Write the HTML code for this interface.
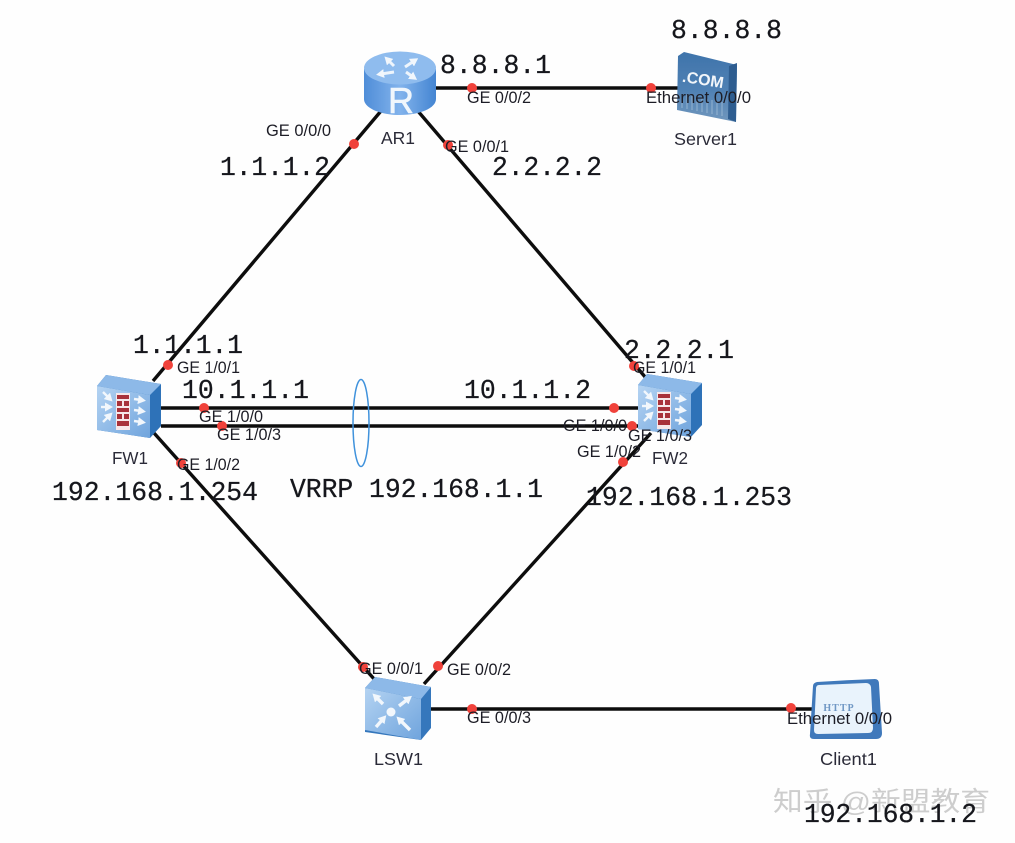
<!DOCTYPE html>
<html><head><meta charset="utf-8">
<style>
html,body{margin:0;padding:0;background:#fefefe;}
svg{display:block;}
.m{font-family:"Liberation Mono",monospace;font-size:26.4px;fill:#14181c;stroke:#14181c;stroke-width:.25;}
.l{font-family:"Liberation Sans",sans-serif;font-size:16.3px;fill:#1f1f26;}
.n{font-family:"Liberation Sans",sans-serif;font-size:17.5px;fill:#2c2c38;}
.ln{stroke:#0c0c0c;stroke-width:3.4;fill:none;}
.d{fill:#f0433b;}
</style></head><body>
<svg width="1015" height="843" viewBox="0 0 1015 843" xmlns="http://www.w3.org/2000/svg">
<defs>
<filter id="b" x="0" y="0" width="100%" height="100%"><feGaussianBlur stdDeviation="0.35"/></filter>
<marker id="a" markerUnits="userSpaceOnUse" markerWidth="9" markerHeight="9" refX="3" refY="4.5" orient="auto"><path d="M0 0 L8 4.5 L0 9 Z" fill="#f2f7fc"/></marker>
<linearGradient id="f" x1="0" y1="0" x2="1" y2="1"><stop offset="0" stop-color="#b4d3f2"/><stop offset="1" stop-color="#6fa4dd"/></linearGradient>
<linearGradient id="r" x1="0" y1="0" x2="1" y2="0"><stop offset="0" stop-color="#4f8dd8"/><stop offset="0.5" stop-color="#82b3ec"/><stop offset="1" stop-color="#4485d2"/></linearGradient>
<linearGradient id="s" x1="0" y1="0" x2="0" y2="1"><stop offset="0" stop-color="#3f74ab"/><stop offset="0.55" stop-color="#4f81b4"/><stop offset="1" stop-color="#7197bd"/></linearGradient>
<g id="fw">
<path d="M0 11 L9 0 L64 9 L64 51 L53 63 L0 55 Z" fill="#2f72b8"/>
<path d="M0 11 L9 0 L64 9 L53 20 Z" fill="#8db9e8"/>
<path d="M0 11 L53 20 L53 63 L0 55 Z" fill="url(#f)"/>
<rect x="19" y="18" width="14" height="37" fill="#f6e8ea"/>
<g fill="#a8323a">
<rect x="20" y="20" width="12" height="4"/><rect x="20" y="26" width="5" height="5"/><rect x="27" y="26" width="5" height="5"/>
<rect x="20" y="33" width="12" height="4"/><rect x="20" y="39" width="5" height="5"/><rect x="27" y="39" width="5" height="5"/>
<rect x="20" y="46" width="12" height="5"/>
</g>
<g stroke="#f2f7fc" stroke-width="2.4" fill="none" marker-end="url(#a)">
<path d="M6 17 L12 23"/><path d="M4 32 L11 32"/><path d="M6 47 L12 41"/>
<path d="M37 24 L44 25"/><path d="M37 35 L44 36"/><path d="M37 46 L44 47"/>
</g>
</g>
</defs>
<g filter="url(#b)">
<rect width="1015" height="843" fill="#fefefe"/>
<!-- links -->
<line class="ln" x1="381" y1="111" x2="153" y2="381"/>
<line class="ln" x1="417" y1="110" x2="646" y2="378"/>
<line class="ln" x1="436" y1="88" x2="680" y2="88"/>
<line class="ln" x1="161" y1="408" x2="638" y2="408"/>
<line class="ln" x1="161" y1="426" x2="638" y2="426"/>
<line class="ln" x1="154" y1="433" x2="375" y2="680"/>
<line class="ln" x1="651" y1="433" x2="424" y2="684"/>
<line class="ln" x1="430" y1="709" x2="815" y2="709"/>

<ellipse cx="361" cy="423" rx="8" ry="43.5" fill="none" stroke="#3f92dc" stroke-width="1.5"/>

<!-- AR1 -->
<path d="M364 69 L364 99 C364 108 380 115 400 115 C420 115 436 108 436 99 L436 69 Z" fill="url(#r)"/>
<ellipse cx="400" cy="68" rx="36" ry="16.5" fill="#8fbcee"/>
<g stroke="#eef5fc" stroke-width="3" fill="none" marker-end="url(#a)">
<path d="M394 66 L388 60"/><path d="M405 67 L414 61"/><path d="M394 72 L381 74"/><path d="M406 72 L413 77"/>
</g>
<text x="401" y="113" text-anchor="middle" style="font-family:'Liberation Sans',sans-serif;font-size:36px;fill:#f0f6fc;stroke:#f0f6fc;stroke-width:.6">R</text>

<!-- Server -->
<path d="M678 56 L684 52 L737 65 L736 122 L677 110 Z" fill="url(#s)"/>
<path d="M729 66 L737 63 L736 122 L728 119 Z" fill="#2e5d90"/>
<g stroke="#a9c4dc" stroke-width="1" opacity=".7">
<path d="M682 94 L682 108"/><path d="M687 95 L687 109"/><path d="M692 96 L692 110"/><path d="M697 97 L697 111"/><path d="M702 98 L702 112"/><path d="M707 99 L707 113"/><path d="M712 100 L712 114"/><path d="M717 101 L717 115"/><path d="M722 102 L722 116"/>
</g>
<text x="703" y="85" text-anchor="middle" transform="rotate(9 703 80)" style="font-family:'Liberation Sans',sans-serif;font-size:16px;font-weight:bold;fill:#f2f6fa">.COM</text>

<!-- Firewalls -->
<use href="#fw" x="97" y="375"/>
<use href="#fw" x="638" y="374"/>

<!-- LSW1 -->
<path d="M365 688 L375 677 L431 687 L431 728 L421 740 L365 732 Z" fill="#3677bc"/>
<path d="M365 688 L375 677 L431 687 L421 699 Z" fill="#8db9e8"/>
<path d="M365 688 L421 699 L421 740 L365 730 Z" fill="url(#f)"/>
<circle cx="391" cy="712" r="4.5" fill="#f2f7fc"/>
<g stroke="#f2f7fc" stroke-width="3.4" fill="none" marker-end="url(#a)">
<path d="M383 704 L376 697"/><path d="M399 706 L408 699"/><path d="M376 727 L383 719"/><path d="M410 730 L400 720"/>
</g>

<!-- Client -->
<path d="M817 682 Q847 680 875 679 Q879 679 879 684 L882 733 Q882 739 876 739 L814 739 Q809 739 810 734 L813 686 Q813 683 817 682 Z" fill="#3f79bb"/>
<path d="M819 685 L866 683 Q870 683 871 687 L873 728 Q873 733 868 733 L818 734 Q814 734 814 730 L816 689 Q816 685 819 685 Z" fill="#e9f3fc"/>
<text x="839" y="711" text-anchor="middle" style="font-family:'Liberation Serif',serif;font-size:10px;font-weight:bold;letter-spacing:1px;fill:#6f97c4">HTTP</text>

<!-- dots -->
<g class="d">
<circle cx="354" cy="144" r="5"/><circle cx="448" cy="145" r="5"/><circle cx="472" cy="88" r="5"/><circle cx="651" cy="88" r="5"/>
<circle cx="168" cy="365" r="5"/><circle cx="204" cy="408" r="5"/><circle cx="222" cy="426" r="5"/><circle cx="181" cy="463" r="5"/>
<circle cx="634" cy="366" r="5"/><circle cx="614" cy="408" r="5"/><circle cx="632" cy="426" r="5"/><circle cx="623" cy="462" r="5"/>
<circle cx="363" cy="667" r="5"/><circle cx="438" cy="666" r="5"/><circle cx="472" cy="709" r="5"/><circle cx="791" cy="708" r="5"/>
</g>

<!-- port labels -->
<g class="l">
<text x="266" y="136" textLength="65" lengthAdjust="spacingAndGlyphs">GE 0/0/0</text>
<text x="467" y="103" textLength="64" lengthAdjust="spacingAndGlyphs">GE 0/0/2</text>
<text x="445" y="152" textLength="64" lengthAdjust="spacingAndGlyphs">GE 0/0/1</text>
<text x="646" y="103" textLength="105" lengthAdjust="spacingAndGlyphs">Ethernet 0/0/0</text>
<text x="177" y="373" textLength="63" lengthAdjust="spacingAndGlyphs">GE 1/0/1</text>
<text x="199" y="422" textLength="64" lengthAdjust="spacingAndGlyphs">GE 1/0/0</text>
<text x="217" y="440" textLength="64" lengthAdjust="spacingAndGlyphs">GE 1/0/3</text>
<text x="177" y="470" textLength="63" lengthAdjust="spacingAndGlyphs">GE 1/0/2</text>
<text x="633" y="373" textLength="63" lengthAdjust="spacingAndGlyphs">GE 1/0/1</text>
<text x="563" y="431" textLength="64" lengthAdjust="spacingAndGlyphs">GE 1/0/0</text>
<text x="628" y="441" textLength="64" lengthAdjust="spacingAndGlyphs">GE 1/0/3</text>
<text x="577" y="457" textLength="64" lengthAdjust="spacingAndGlyphs">GE 1/0/2</text>
<text x="359" y="674" textLength="64" lengthAdjust="spacingAndGlyphs">GE 0/0/1</text>
<text x="447" y="675" textLength="64" lengthAdjust="spacingAndGlyphs">GE 0/0/2</text>
<text x="467" y="723" textLength="64" lengthAdjust="spacingAndGlyphs">GE 0/0/3</text>
<text x="787" y="724" textLength="105" lengthAdjust="spacingAndGlyphs">Ethernet 0/0/0</text>
</g>

<!-- node names -->
<g class="n">
<text x="381" y="144" textLength="34" lengthAdjust="spacingAndGlyphs">AR1</text>
<text x="674" y="145" textLength="63" lengthAdjust="spacingAndGlyphs">Server1</text>
<text x="112" y="464" textLength="36" lengthAdjust="spacingAndGlyphs">FW1</text>
<text x="652" y="464" textLength="36" lengthAdjust="spacingAndGlyphs">FW2</text>
<text x="374" y="765" textLength="49" lengthAdjust="spacingAndGlyphs">LSW1</text>
<text x="820" y="765" textLength="57" lengthAdjust="spacingAndGlyphs">Client1</text>
</g>

<!-- watermark -->
<text x="773" y="811" style="font-family:'Liberation Sans','Noto Sans CJK SC',sans-serif;font-size:27px;fill:#cdcdcd" textLength="217" lengthAdjust="spacingAndGlyphs">知乎 @新盟教育</text>

<!-- IP labels -->
<g class="m">
<text x="671" y="38" textLength="111" lengthAdjust="spacing">8.8.8.8</text>
<text x="440" y="73" textLength="111" lengthAdjust="spacing">8.8.8.1</text>
<text x="220" y="175" textLength="110" lengthAdjust="spacing">1.1.1.2</text>
<text x="492" y="175" textLength="110" lengthAdjust="spacing">2.2.2.2</text>
<text x="133" y="353" textLength="110" lengthAdjust="spacing">1.1.1.1</text>
<text x="624" y="358" textLength="110" lengthAdjust="spacing">2.2.2.1</text>
<text x="182" y="398" textLength="127" lengthAdjust="spacing">10.1.1.1</text>
<text x="464" y="398" textLength="127" lengthAdjust="spacing">10.1.1.2</text>
<text x="52" y="500" textLength="206" lengthAdjust="spacing">192.168.1.254</text>
<text x="290" y="497" textLength="253" lengthAdjust="spacing">VRRP 192.168.1.1</text>
<text x="586" y="505" textLength="206" lengthAdjust="spacing">192.168.1.253</text>
<text x="804" y="822" textLength="173" lengthAdjust="spacing">192.168.1.2</text>
</g>
</g>
</svg>
</body></html>
